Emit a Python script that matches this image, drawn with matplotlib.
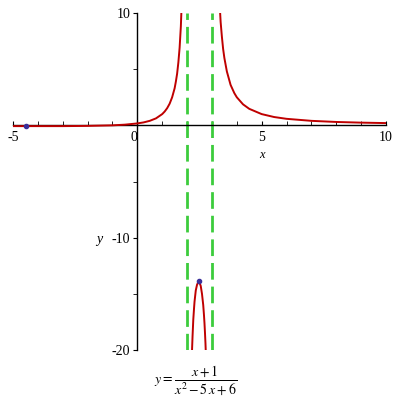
import matplotlib
matplotlib.use("Agg")
import matplotlib.pyplot as plt

plt.rcParams['font.family'] = ['Liberation Serif', 'DejaVu Serif']
plt.rcParams['mathtext.fontset'] = 'stix'

# values
left_x = [-5, -4, -3, -2, -1, -0.5, 0, 0.25, 0.5, 0.75, 1, 1.1, 1.2, 1.3, 1.4, 1.5,
          1.55, 1.6, 1.65, 1.7, 1.75, 1.77]
left_y = [-0.07, -0.07, -0.07, -0.05, 0, 0.06, 0.17, 0.26, 0.4, 0.62, 1.0, 1.23, 1.53,
          1.93, 2.5, 3.3, 3.9, 4.6, 5.6, 6.9, 8.8, 10]
mid_x = [2.2, 2.22, 2.25, 2.28, 2.3, 2.35, 2.4, 2.46, 2.5, 2.55, 2.6, 2.65, 2.68, 2.7,
         2.72, 2.74, 2.75]
mid_y = [-20, -18.8, -17.3, -16.3, -15.7, -14.7, -14.2, -13.9, -14.0, -14.3, -15.0,
         -16.0, -16.9, -17.6, -18.45, -19.4, -20]
right_x = [3.33, 3.35, 3.4, 3.45, 3.5, 3.6, 3.75, 3.9, 4, 4.25, 4.5, 5, 5.5, 6, 7, 8, 9, 10]
right_y = [10, 9.2, 7.9, 6.8, 6.0, 4.8, 3.6, 2.87, 2.5, 1.87, 1.47, 1.0, 0.74, 0.58,
           0.4, 0.3, 0.24, 0.2]
asymptotes = [2, 3]
extrema_x = [-4.46, 2.46]
extrema_y = [-0.07, -13.9]
xticks = [-5, 0, 5, 10]
xticklabels = ['-5', '0', '5', '10']
yticks = [10, -10, -20]
yticklabels = ['10', '-10', '-20']

fig = plt.figure(figsize=(4, 4), dpi=100)
ax = fig.add_axes([0.0325, 0.125, 0.9325, 0.8425])
ax.set_xlim(-5, 10)
ax.set_ylim(-20, 10)

red = '#bf0000'
for xs, ys in [(left_x, left_y), (mid_x, mid_y), (right_x, right_y)]:
    ax.plot(xs, ys, color=red, lw=1.4, zorder=3)
for a in asymptotes:
    ax.plot([a, a], [-20, 10], color='#3ccc3c', lw=2, ls=(0, (6, 2.5)), zorder=2)
ax.plot(extrema_x, extrema_y, 'o', color='#3a2f9a', ms=3, zorder=4)

ax.spines['left'].set_position(('data', 0))
ax.spines['bottom'].set_position(('data', 0))
ax.spines['right'].set_visible(False)
ax.spines['top'].set_visible(False)
for s in ('left', 'bottom'):
    ax.spines[s].set_linewidth(1)

ax.set_xticks(xticks)
ax.set_xticklabels(xticklabels)
ax.set_xticks(range(-5, 11), minor=True)
ax.set_yticks(yticks)
ax.set_yticklabels(yticklabels)
ax.set_yticks([5, -5, -15], minor=True)
ax.tick_params(axis='x', which='both', direction='in', length=3, labelsize=10, pad=4)
ax.tick_params(axis='y', which='both', direction='out', length=3, labelsize=10, pad=2)
for lab in ax.get_xticklabels():
    if lab.get_text() == '0':
        lab.set_horizontalalignment('right')

ax.text(5, -2.6, 'x', fontsize=9, style='italic', ha='center', va='center')
ax.text(-1.55, -10.2, 'y', fontsize=10, style='italic', ha='center', va='center')
fig.text(0.49, 0.05, r'$y=\dfrac{x+1}{x^2-5\,x+6}$', fontsize=10, ha='center', va='center')

fig.savefig('out.png', dpi=100)
